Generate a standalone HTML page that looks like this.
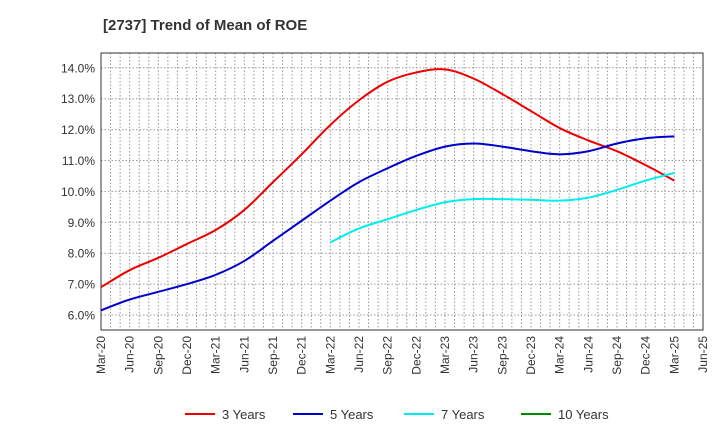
<!DOCTYPE html>
<html><head><meta charset="utf-8"><style>
body{margin:0;background:#fff;font-family:"Liberation Sans",sans-serif;}
svg text{font-family:"Liberation Sans",sans-serif;}
</style></head><body>
<svg id="c" width="720" height="440">
<text x="103" y="30" font-size="15" font-weight="bold" fill="#333">[2737]  Trend of Mean of ROE</text>
</svg>
<script>
const xLabels=["Mar-20","Jun-20","Sep-20","Dec-20","Mar-21","Jun-21","Sep-21","Dec-21","Mar-22","Jun-22","Sep-22","Dec-22","Mar-23","Jun-23","Sep-23","Dec-23","Mar-24","Jun-24","Sep-24","Dec-24","Mar-25","Jun-25"];
const yTicks=[6,7,8,9,10,11,12,13,14];
const s3=[6.9,7.45,7.85,8.3,8.75,9.4,10.3,11.2,12.15,12.95,13.55,13.85,13.95,13.65,13.15,12.6,12.05,11.65,11.3,10.85,10.35];
const s5=[6.15,6.5,6.75,7.0,7.3,7.75,8.4,9.05,9.7,10.3,10.75,11.15,11.45,11.55,11.45,11.3,11.2,11.3,11.55,11.72,11.78];
const s7=[null,null,null,null,null,null,null,null,8.35,8.8,9.1,9.4,9.65,9.75,9.75,9.73,9.7,9.8,10.05,10.35,10.6];
const s10=[];
const L=101,R=703,T=53,B=330;
const X=i=>L+i*(R-L)/21;
const Y=v=>315-(v-6)*30.9;
const svg=document.getElementById('c');
const NS='http://www.w3.org/2000/svg';
function mk(t,a){const e=document.createElementNS(NS,t);for(const k in a)e.setAttribute(k,a[k]);svg.appendChild(e);return e;}
for(let m=1;m<63;m++){const x=L+m*(R-L)/63;const g=mk('line',{x1:x,x2:x,y1:T,y2:B,stroke:'#999','stroke-dasharray':'1.5,2','stroke-width':1});

}
yTicks.forEach(v=>{const g=mk('line',{x1:L,x2:R,y1:Y(v),y2:Y(v),stroke:'#999','stroke-dasharray':'1.5,2'});


const t=mk('text',{x:L-6,y:Y(v)+4.5,'text-anchor':'end','font-size':12,fill:'#333'});t.textContent=v.toFixed(1)+'%';

});
const fr=mk('rect',{x:L,y:T,width:R-L,height:B-T,fill:'none',stroke:'#333','stroke-width':1});


xLabels.forEach((l,i)=>{const t=mk('text',{transform:`translate(${X(i)+4},${B+6}) rotate(-90)`,'text-anchor':'end','font-size':12,fill:'#333'});t.textContent=l;

});
function path(arr,col,name){const pts=[];arr.forEach((v,i)=>{if(v!=null)pts.push([X(i),Y(v)]);});if(pts.length<2)return;
let d=`M${pts[0][0]},${pts[0][1]}`;
for(let i=0;i<pts.length-1;i++){const p0=pts[i-1]||pts[i],p1=pts[i],p2=pts[i+1],p3=pts[i+2]||p2;
d+=` C${p1[0]+(p2[0]-p0[0])/6},${p1[1]+(p2[1]-p0[1])/6} ${p2[0]-(p3[0]-p1[0])/6},${p2[1]-(p3[1]-p1[1])/6} ${p2[0]},${p2[1]}`;}
const e=mk('path',{d,fill:'none',stroke:col,'stroke-width':2});

}
path(s3,'#e00','line-3-years');path(s5,'#00c','line-5-years');path(s7,'#0ee','line-7-years');path(s10,'#080','line-10-years');
[['3 Years','#e00',185],['5 Years','#00c',293],['7 Years','#0ee',404],['10 Years','#080',521]].forEach(([n,c,x])=>{
const l=mk('line',{x1:x,x2:x+30,y1:414,y2:414,stroke:c,'stroke-width':2});


const t=mk('text',{x:x+37,y:419,'font-size':13,fill:'#333'});t.textContent=n;

});
</script>
</body></html>
